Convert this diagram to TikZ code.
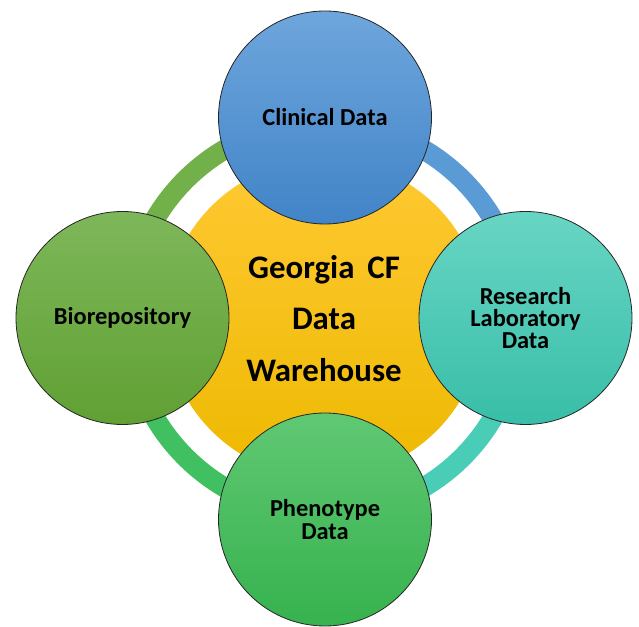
\documentclass[tikz,border=0pt]{standalone}
\usepackage{fontspec}
\setmainfont{Carlito}
\definecolor{ringA}{HTML}{72B04A}
\definecolor{ringB}{HTML}{5B9BD5}
\definecolor{ringC}{HTML}{4ACDB6}
\definecolor{ringD}{HTML}{40C060}
\definecolor{clinTop}{HTML}{6EA6DC}
\definecolor{clinBot}{HTML}{4184C8}
\definecolor{bioTop}{HTML}{7EB75A}
\definecolor{bioBot}{HTML}{60A033}
\definecolor{resTop}{HTML}{68D5C4}
\definecolor{resBot}{HTML}{38BEA8}
\definecolor{phenTop}{HTML}{60C873}
\definecolor{phenBot}{HTML}{36B24E}
\definecolor{yelTop}{HTML}{FFC933}
\definecolor{yelBot}{HTML}{EDB900}
\definecolor{edge}{HTML}{262626}
\tikzset{
  sat/.style={circle, draw=edge, line width=0.8bp, minimum size=213bp, inner sep=0pt,
    align=center, font=\fontsize{24.5}{22.5}\selectfont\bfseries, text=black},
  hub/.style={circle, minimum size=318bp, inner sep=0pt, align=center,
    font=\fontsize{33}{52}\selectfont\bfseries, text=black, top color=yelTop, bottom color=yelBot},
  ring/.style={line width=20bp}
}
\begin{document}
\begin{tikzpicture}[x=1bp,y=1bp]
\useasboundingbox (0,0) rectangle (639,627);
\coordinate (c) at (324,308.5);
% ring arcs
\draw[ring, ringA] ([shift={(90:196)}]c) arc (90:180:196);
\draw[ring, ringB] ([shift={(0:196)}]c) arc (0:90:196);
\draw[ring, ringC] ([shift={(270:196)}]c) arc (270:360:196);
\draw[ring, ringD] ([shift={(180:196)}]c) arc (180:270:196);
% hub
\node[hub] (dw) at (c) {Georgia\,\ CF\\Data\\Warehouse};
% satellites
\node[sat, top color=clinTop, bottom color=clinBot] (clin) at (325,509.5) {Clinical Data};
\node[sat, top color=bioTop, bottom color=bioBot] (bio) at (122.5,309) {Biorepository};
\node[sat, top color=resTop, bottom color=resBot] (res) at (525.5,309) {Research\\Laboratory\\Data};
\node[sat, top color=phenTop, bottom color=phenBot] (phen) at (325,107.5) {Phenotype\\Data};
\end{tikzpicture}
\end{document}
